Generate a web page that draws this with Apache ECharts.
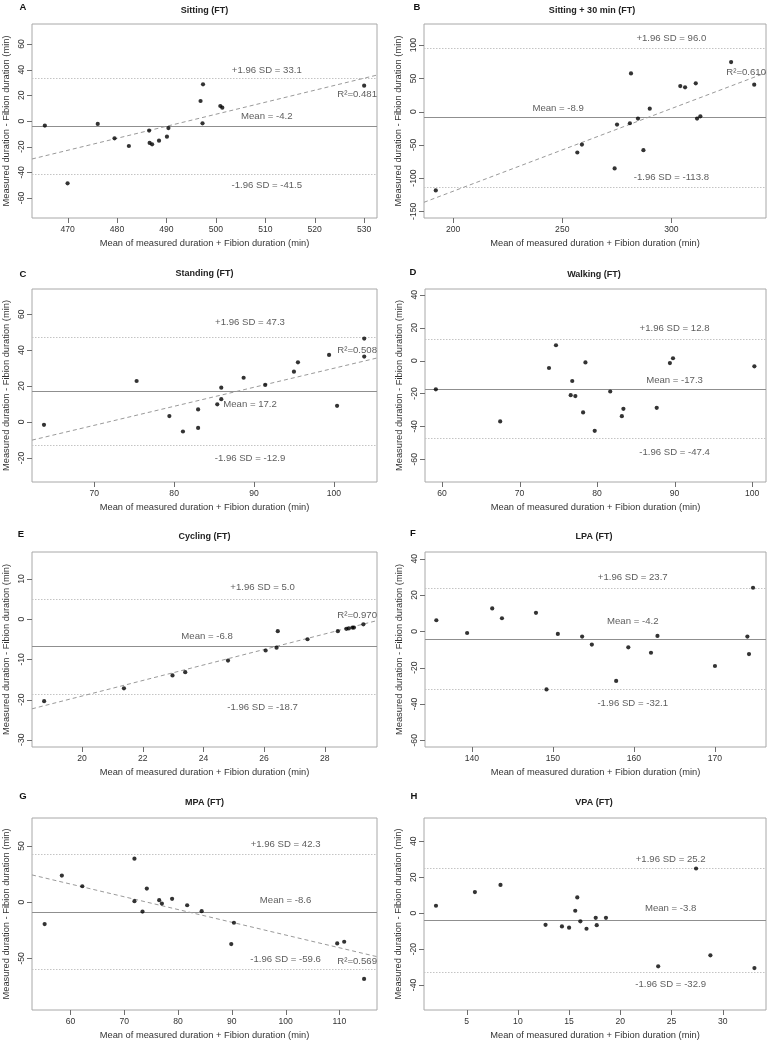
<!DOCTYPE html>
<html><head><meta charset="utf-8">
<script src="https://cdn.jsdelivr.net/npm/echarts@6/dist/echarts.min.js"></script>
<style>html,body{margin:0;padding:0;background:#fff}#chart{width:770px;height:1043px}</style>
</head><body><div id="chart"></div>
<script>
// ---------------- DATA ----------------
const panelLetters = ['A','B','C','D','E','F','G','H'];
const panelTitles = ['Sitting (FT)','Sitting + 30 min (FT)','Standing (FT)','Walking (FT)','Cycling (FT)','LPA (FT)','MPA (FT)','VPA (FT)'];
const xAxisName = 'Mean of measured duration + Fibion duration (min)';
const yAxisName = 'Measured duration - Fibion duration (min)';

const sittingX = [465.4, 470.0, 476.1, 479.5, 482.4, 486.5, 486.6, 487.1, 488.5, 490.1, 490.4, 496.9, 497.4, 497.3, 500.9, 501.3, 530.0];
const sittingY = [-3.6, -48.6, -2.3, -13.5, -19.5, -7.5, -17.1, -18.2, -15.3, -12.2, -5.5, 15.6, 28.6, -1.8, 11.7, 10.4, 27.5];

const sitting30X = [192.0, 256.9, 259.0, 274.0, 275.1, 281.0, 281.5, 284.7, 287.2, 290.1, 304.1, 306.3, 311.2, 311.8, 313.3, 327.4, 338.0];
const sitting30Y = [-118.5, -61.5, -49.5, -85.5, -19.5, -17.5, 57.5, -10.5, -58.0, 4.5, 38.5, 36.5, 42.5, -10.5, -7.0, 74.5, 40.5];

const standingX = [63.7, 75.3, 79.4, 81.1, 83.0, 83.0, 85.4, 85.9, 85.9, 88.7, 91.4, 95.0, 95.5, 99.4, 100.4, 103.8, 103.8];
const standingY = [-1.6, 22.8, 3.3, -5.3, 7.0, -3.3, 9.8, 19.1, 12.7, 24.6, 20.6, 28.0, 33.2, 37.3, 9.0, 46.4, 36.4];

const walkingX = [59.2, 67.5, 73.8, 74.7, 76.6, 76.8, 77.2, 78.2, 78.5, 79.7, 81.7, 83.2, 83.4, 87.7, 89.4, 89.8, 100.3];
const walkingY = [-17.5, -37.0, -4.5, 9.3, -21.0, -12.4, -21.6, -31.5, -1.1, -42.7, -18.8, -33.8, -29.3, -28.7, -1.5, 1.4, -3.5];

const cyclingX = [18.75, 21.38, 22.98, 23.40, 24.81, 26.05, 26.41, 26.45, 27.43, 28.43, 28.71, 28.79, 28.91, 28.96, 29.27];
const cyclingY = [-20.4, -17.2, -14.0, -13.2, -10.3, -7.8, -7.1, -3.0, -5.0, -3.0, -2.4, -2.3, -2.1, -2.1, -1.3];

const lpaX = [135.6, 139.4, 142.5, 143.7, 147.9, 149.2, 150.6, 153.6, 154.8, 157.8, 159.3, 162.1, 162.9, 170.0, 174.0, 174.2, 174.7];
const lpaY = [6.1, -0.9, 12.6, 7.2, 10.2, -32.0, -1.4, -2.9, -7.3, -27.3, -8.8, -11.8, -2.5, -19.1, -2.9, -12.5, 24.0];

const mpaX = [55.2, 58.4, 62.2, 71.9, 71.9, 73.4, 74.2, 76.5, 77.0, 78.9, 81.7, 84.4, 89.9, 90.4, 109.6, 110.9, 114.6];
const mpaY = [-19.5, 23.7, 14.2, 38.8, 0.9, -8.3, 12.1, 1.8, -1.2, 3.0, -2.7, -8.0, -37.3, -18.3, -36.7, -35.2, -68.3];

const vpaX = [2.0, 5.8, 8.3, 12.7, 14.3, 15.0, 15.6, 15.8, 16.1, 16.7, 17.6, 17.7, 18.6, 23.7, 27.4, 28.8, 33.1];
const vpaY = [4.1, 11.7, 15.7, -6.5, -7.4, -8.1, 1.3, 8.7, -4.6, -8.7, -2.6, -6.7, -2.6, -29.6, 24.8, -23.5, -30.6];

const meanDiff = [-4.2, -8.9, 17.2, -17.3, -6.8, -4.2, -8.6, -3.8];
const upperLoA = [33.1, 96.0, 47.3, 12.8, 5.0, 23.7, 42.3, 25.2];
const lowerLoA = [-41.5, -113.8, -12.9, -47.4, -18.7, -32.1, -59.6, -32.9];
const rSquared = [0.481, 0.610, 0.508, null, 0.970, null, 0.569, null];
const regSlope = [0.937, 1.2428, 1.0579, null, 1.9295, null, -1.1349, null];
const regIntercept = [-463.25, -368.28, -75.90, null, -57.71, null, 84.28, null];

const xTickValues = [
  [470, 480, 490, 500, 510, 520, 530],
  [200, 250, 300],
  [70, 80, 90, 100],
  [60, 70, 80, 90, 100],
  [20, 22, 24, 26, 28],
  [140, 150, 160, 170],
  [60, 70, 80, 90, 100, 110],
  [5, 10, 15, 20, 25, 30]
];
const yTickValues = [
  [-60, -40, -20, 0, 20, 40, 60],
  [-150, -100, -50, 0, 50, 100],
  [-20, 0, 20, 40, 60],
  [-60, -40, -20, 0, 20, 40],
  [-30, -20, -10, 0, 10],
  [-60, -40, -20, 0, 20, 40],
  [-50, 0, 50],
  [-40, -20, 0, 20, 40]
];

const panelX = [sittingX, sitting30X, standingX, walkingX, cyclingX, lpaX, mpaX, vpaX];
const panelY = [sittingY, sitting30Y, standingY, walkingY, cyclingY, lpaY, mpaY, vpaY];

// ---------------- LAYOUT ----------------
// grid: [left, top, width, height]; xr/yr: axis ranges; ann: annotation anchor positions (data units)
const layout = [
  {grid:[32,24,345,194],  xr:[462.8,532.6], yr:[-75.6,75.6], ann:{x:510.3, mx:510.3, up:39.5, mean:3.4, lo:-50.1, r2:20.5},  letter:[23,7],   title:[204.5,11]},
  {grid:[424,24,342,194], xr:[186.6,343.4], yr:[-160,131.8], ann:{x:300.0, mx:248.1, up:109.5, mean:5.0, lo:-99.0, r2:59.0}, letter:[417,7],  title:[592,11]},
  {grid:[32,289,345,193], xr:[62.2,105.4],  yr:[-33.4,74.0], ann:{x:89.5, mx:89.5, up:55.3, mean:9.8, lo:-20.4, r2:39.7},    letter:[23,274], title:[204.5,274]},
  {grid:[425,289,341,193],xr:[57.8,101.8],  yr:[-73.8,43.5], ann:{x:90.0, mx:90.0, up:19.3, mean:-12.2, lo:-55.5, r2:0},     letter:[413,272],title:[594,275]},
  {grid:[32,552,345,195], xr:[18.35,29.72], yr:[-31.8,16.7], ann:{x:25.95, mx:24.12, up:7.84, mean:-4.3, lo:-22.0, r2:1.0},  letter:[21,534], title:[204.5,537]},
  {grid:[425,552,341,195],xr:[134.2,176.3], yr:[-63.7,43.7], ann:{x:159.85, mx:159.85, up:29.7, mean:5.7, lo:-39.7, r2:0},   letter:[413,533],title:[594,537]},
  {grid:[32,818,345,192], xr:[52.85,117.0], yr:[-96,75],     ann:{x:100.0, mx:100.0, up:51.5, mean:1.8, lo:-50.6, r2:-53.0}, letter:[23,796], title:[204.5,803]},
  {grid:[424,818,342,192],xr:[0.83,34.23],  yr:[-53.9,52.9], ann:{x:24.92, mx:24.92, up:29.8, mean:2.6, lo:-39.6, r2:0},     letter:[414,796],title:[594,803]}
];

const FONT = '"Liberation Sans", Arial, Helvetica, sans-serif';
const TXT = '#333333';
const BOX = '#a8a8a8';
const TICK = '#6e6e6e';
const TICK_LEN = 5;

const grids = [], xAxes = [], yAxes = [], series = [], graphics = [];

panelLetters.forEach((letter, i) => {
  const L = layout[i];
  grids.push({left:L.grid[0], top:L.grid[1], width:L.grid[2], height:L.grid[3],
    show:true, borderColor:BOX, borderWidth:1, backgroundColor:'transparent'});
  xAxes.push({gridIndex:i, type:'value', position:'bottom', min:L.xr[0], max:L.xr[1],
    axisLine:{show:false, onZero:false}, splitLine:{show:false}, axisTick:{show:false},
    axisLabel:{customValues:xTickValues[i], fontSize:8.6, color:TXT, margin:7, fontFamily:FONT},
    name:xAxisName, nameLocation:'middle', nameGap:21,
    nameTextStyle:{fontSize:9.3, color:TXT, fontFamily:FONT}});
  yAxes.push({gridIndex:i, type:'value', position:'left', min:L.yr[0], max:L.yr[1],
    axisLine:{show:false, onZero:false}, splitLine:{show:false}, axisTick:{show:false},
    axisLabel:{customValues:yTickValues[i], fontSize:8.6, color:TXT, margin:6, rotate:90, fontFamily:FONT},
    name:yAxisName, nameLocation:'middle', nameGap:21, nameRotate:90,
    nameTextStyle:{fontSize:9.3, color:TXT, fontFamily:FONT}});

  // tick marks drawn through the axis scales (outside the box, R style)
  series.push({type:'custom', xAxisIndex:i, yAxisIndex:i, silent:true, animation:false, clip:false, z:1,
    data:[[L.xr[0], L.yr[0]]],
    renderItem:(params, api) => {
      const children = [];
      xTickValues[i].forEach(v => {
        const p = api.coord([v, L.yr[0]]);
        const x = Math.round(p[0]) + 0.5, y = Math.round(p[1]);
        children.push({type:'line', shape:{x1:x, y1:y, x2:x, y2:y + TICK_LEN}, style:{stroke:TICK, lineWidth:1}});
      });
      yTickValues[i].forEach(v => {
        const p = api.coord([L.xr[0], v]);
        const x = Math.round(p[0]), y = Math.round(p[1]) + 0.5;
        children.push({type:'line', shape:{x1:x - TICK_LEN, y1:y, x2:x, y2:y}, style:{stroke:TICK, lineWidth:1}});
      });
      return {type:'group', children};
    }
  });

  const mlData = [
    {yAxis:meanDiff[i], lineStyle:{type:'solid', color:'#8f8f8f', width:1.1}},
    {yAxis:upperLoA[i], lineStyle:{type:[1.5,1.5], color:'#c4c4c4', width:1}},
    {yAxis:lowerLoA[i], lineStyle:{type:[1.5,1.5], color:'#c4c4c4', width:1}}
  ];
  if (regSlope[i] !== null) {
    const x0 = L.xr[0], x1 = L.xr[1];
    mlData.push([
      {coord:[x0, regIntercept[i] + regSlope[i]*x0], lineStyle:{type:[4,3], color:'#9a9a9a', width:1}},
      {coord:[x1, regIntercept[i] + regSlope[i]*x1]}
    ]);
  }

  series.push({type:'scatter', xAxisIndex:i, yAxisIndex:i, silent:true, animation:false,
    data: panelX[i].map((x,k)=>[x, panelY[i][k]]),
    symbol:'circle', symbolSize:4.2, itemStyle:{color:'#000'}, z:5,
    markLine:{silent:true, symbol:['none','none'], label:{show:false}, animation:false, data:mlData}
  });

  const ann = [
    {value:[L.ann.x, L.ann.up], label:{formatter:'+1.96 SD = ' + upperLoA[i].toFixed(1)}},
    {value:[L.ann.mx, L.ann.mean], label:{formatter:'Mean = ' + meanDiff[i].toFixed(1)}},
    {value:[L.ann.x, L.ann.lo], label:{formatter:'-1.96 SD = ' + lowerLoA[i].toFixed(1)}}
  ];
  if (rSquared[i] !== null) {
    ann.push({value:[L.xr[1], L.ann.r2], label:{formatter:'R\u00B2=' + rSquared[i].toFixed(3), align:'right'}});
  }
  series.push({type:'scatter', xAxisIndex:i, yAxisIndex:i, silent:true, animation:false,
    symbolSize:0, data:ann, z:6,
    label:{show:true, position:'inside', color:TXT, fontSize:9.6, fontFamily:FONT, align:'center', verticalAlign:'middle'}
  });

  graphics.push({type:'text', x:L.letter[0], y:L.letter[1],
    style:{text:letter, font:'bold 9.5px ' + FONT, fill:'#111', align:'center', verticalAlign:'middle'}});
  graphics.push({type:'text', x:L.title[0], y:L.title[1],
    style:{text:panelTitles[i], font:'bold 9px ' + FONT, fill:'#222', align:'center', verticalAlign:'middle'}});
});

const chart = echarts.init(document.getElementById('chart'), null, {renderer:'canvas'});
chart.setOption({
  animation:false,
  backgroundColor:'#ffffff',
  textStyle:{fontFamily:FONT},
  grid:grids, xAxis:xAxes, yAxis:yAxes, series:series, graphic:graphics
});
</script></body></html>
